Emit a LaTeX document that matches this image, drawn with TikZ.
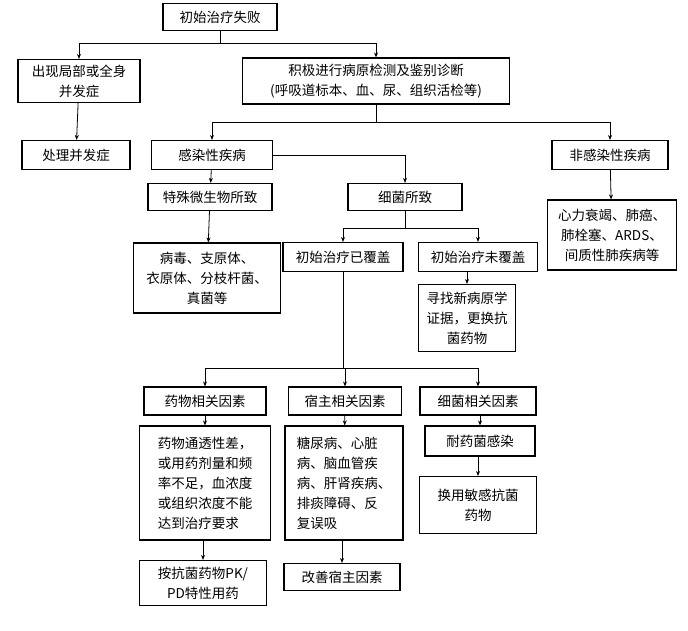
\documentclass[tikz,border=0pt]{standalone}
\usepackage{fontspec}
\setmainfont{Noto Sans CJK SC}
\usetikzlibrary{arrows.meta}
\begin{document}
\begin{tikzpicture}[x=1pt,y=-1pt,
  bx/.style={draw,line width=1.1pt,align=center,font=\fontsize{13.5}{20}\selectfont,inner sep=0pt},
  ar/.style={-{Stealth[length=5pt,width=4pt]},line width=0.8pt},
  ln/.style={line width=0.8pt}]
\useasboundingbox (0,0) rectangle (688,631);
\node[bx,minimum width=114,minimum height=27] (A) at (220,17) {初始治疗失败};
\node[bx,minimum width=122,minimum height=43] (B) at (79,81) {出现局部或全身\\并发症};
\node[bx,minimum width=267,minimum height=46] (C) at (376,81) {积极进行病原检测及鉴别诊断\\(呼吸道标本、血、尿、组织活检等)};
\node[bx,minimum width=108,minimum height=29] (D) at (76,155) {处理并发症};
\node[bx,minimum width=121,minimum height=29] (E) at (212,155) {感染性疾病};
\node[bx,minimum width=116,minimum height=29] (F) at (610,155) {非感染性疾病};
\node[bx,minimum width=124,minimum height=27] (G) at (210,197) {特殊微生物所致};
\node[bx,minimum width=114,minimum height=27] (H) at (405,197) {细菌所致};
\node[bx,minimum width=147,minimum height=70] (I) at (207,278) {病毒、支原体、\\衣原体、分枝杆菌、\\真菌等};
\node[bx,minimum width=129,minimum height=70] (J) at (612,235) {心力衰竭、肺癌、\\肺栓塞、ARDS、\\间质性肺疾病等};
\node[bx,minimum width=120,minimum height=29] (K) at (343,257) {初始治疗已覆盖};
\node[bx,minimum width=119,minimum height=29] (L) at (478,257) {初始治疗未覆盖};
\node[bx,minimum width=97,minimum height=67] (M) at (467,318) {寻找新病原学\\证据，更换抗\\菌药物};
\node[bx,minimum width=122,minimum height=28] (N) at (205,401) {药物相关因素};
\node[bx,minimum width=113,minimum height=28] (O) at (345,401) {宿主相关因素};
\node[bx,minimum width=116,minimum height=28] (P) at (478,401) {细菌相关因素};
\node[bx,minimum width=131,minimum height=114,align=left] (Q) at (205,483) {药物通透性差，\\或用药剂量和频\\率不足，血浓度\\或组织浓度不能\\达到治疗要求};
\node[bx,minimum width=118,minimum height=114,align=left] (R) at (344,483) {糖尿病、心脏\\病、脑血管疾\\病、肝肾疾病、\\排痰障碍、反\\复误吸};
\node[bx,minimum width=110,minimum height=30] (S) at (480,441) {耐药菌感染};
\node[bx,minimum width=117,minimum height=57] (T) at (478,505) {换用敏感抗菌\\药物};
\node[bx,minimum width=127,minimum height=45] (U) at (203,583) {按抗菌药物PK/\\PD特性用药};
\node[bx,minimum width=116,minimum height=27] (V) at (342,577) {改善宿主因素};
\coordinate (a1) at (220,43);
\draw[ln] (A) -- (a1);
\draw[ar] (a1) -| (B);
\draw[ar] (a1) -| (C);
\draw[ar] (B) -- (D);
\coordinate (c1) at (376,122);
\draw[ln] (C) -- (c1);
\draw[ar] (c1) -| (E);
\draw[ar] (c1) -| (F);
\draw[ar] (E) -- (G);
\draw[ar] (E.east) -| (H);
\draw[ar] (G) -- (I);
\draw[ar] (F) -- (J);
\coordinate (h1) at (405,228);
\draw[ln] (H) -- (h1);
\draw[ar] (h1) -| (K);
\draw[ar] (h1) -| (L);
\draw[ar] (L.south -| M) -- (M);
\coordinate (k1) at (343,368);
\draw[ln] (K) -- (k1);
\draw[ar] (k1) -| (N);
\draw[ar] (k1) -| (O);
\draw[ar] (k1) -| (P);
\draw[ar] (N) -- (Q);
\draw[ar] (O) -- (R);
\draw[ar] (P.south -| S) -- (S);
\draw[ar] (S.south -| T) -- (T);
\draw[ar] (Q.south -| U) -- (U);
\draw[ar] (R.south -| V) -- (V);
\end{tikzpicture}
\end{document}
